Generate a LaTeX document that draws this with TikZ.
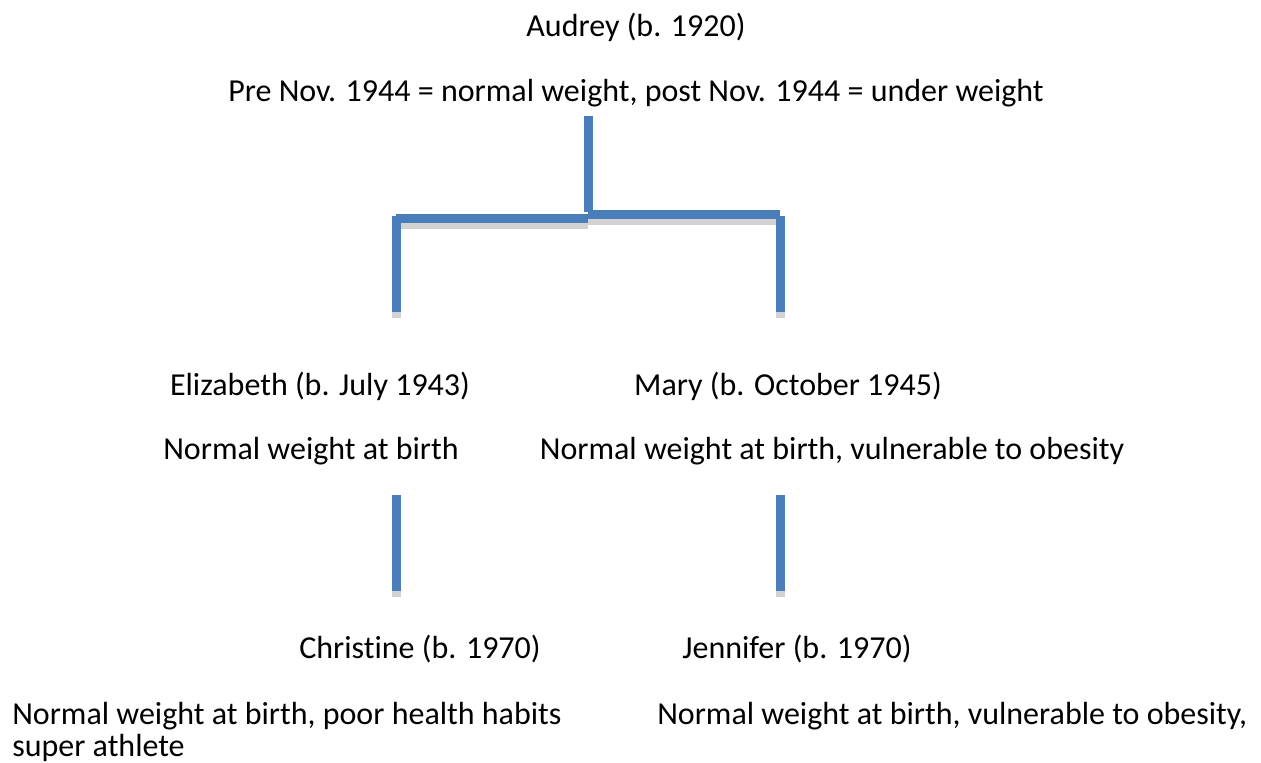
\documentclass[tikz,border=0pt]{standalone}
\usepackage{fontspec}
\setmainfont{Carlito}[Ligatures=NoCommon]
\definecolor{lineblue}{HTML}{4A7EBB}
\definecolor{shadowgray}{HTML}{D2D2D2}
\begin{document}
\begin{tikzpicture}[x=0.75pt,y=-0.75pt,
  txt/.style={inner sep=0pt,font=\fontsize{24}{24}\selectfont,text=black},
  conn/.style={line width=6.75pt,draw=lineblue},
  shade/.style={line width=6.75pt,draw=shadowgray}]
\useasboundingbox (0,0) rectangle (1261,763);
% text
\node[txt,anchor=base] (audrey) at (636,37) {Audrey (b. 1920)};
\node[txt,anchor=base] (audreyw) at (636,102) {Pre Nov. 1944 = normal weight, post Nov. 1944 = under weight};
\node[txt,anchor=base] (eliz) at (320,395) {Elizabeth (b. July 1943)};
\node[txt,anchor=base] (mary) at (788,395) {Mary (b. October 1945)};
\node[txt,anchor=base] (elizw) at (311,459) {Normal weight at birth};
\node[txt,anchor=base] (maryw) at (832,459) {Normal weight at birth, vulnerable to obesity};
\node[txt,anchor=base] (chris) at (420,658) {Christine (b. 1970)};
\node[txt,anchor=base] (jen) at (797,658) {Jennifer (b. 1970)};
\node[txt,anchor=base west,align=left] (chrisw) at (12,756) {Normal weight at birth, poor health habits\\super athlete};
\node[txt,anchor=base west] (jenw) at (657,724) {Normal weight at birth, vulnerable to obesity,};
% connector coordinates
\coordinate (t1) at (588,116);
\coordinate (t2) at (588,212);
\coordinate (hl1) at (396,218.5);
\coordinate (hl2) at (588,218.5);
\coordinate (hr1) at (588,215);
\coordinate (hr2) at (780,215);
\coordinate (l1) at (396,216);
\coordinate (l2) at (396,312);
\coordinate (r1) at (780,216);
\coordinate (r2) at (780,312);
\coordinate (bl1) at (396,495);
\coordinate (bl2) at (396,591);
\coordinate (br1) at (780,495);
\coordinate (br2) at (780,591);
% shadows (offset downwards)
\foreach \a/\b in {hl1/hl2,hr1/hr2,l1/l2,r1/r2,bl1/bl2,br1/br2}
  \draw[shade] ([yshift=-4.3pt]\a) -- ([yshift=-4.3pt]\b);
% lines
\draw[conn] (t1) -- (t2);
\draw[conn] (hl1) -- (hl2);
\draw[conn] (hr1) -- (hr2);
\draw[conn] (l1) -- (l2);
\draw[conn] (r1) -- (r2);
\draw[conn] (bl1) -- (bl2);
\draw[conn] (br1) -- (br2);
\end{tikzpicture}
\end{document}
